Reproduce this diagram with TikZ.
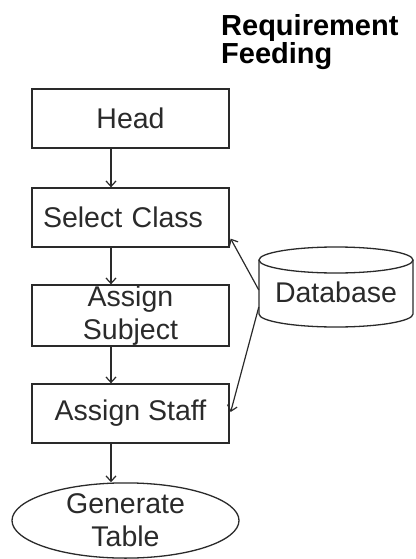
\documentclass[tikz,border=0pt]{standalone}
\usepackage{fontspec}
\setmainfont{Liberation Sans}
\usetikzlibrary{arrows.meta,shapes.geometric}
\definecolor{ink}{HTML}{2A2A2A}
\begin{document}
\begin{tikzpicture}[x=1pt,y=1pt,
  box/.style={draw=ink, line width=1.3pt, minimum width=197pt, minimum height=59pt, inner sep=0pt, align=center, text=ink, font=\fontsize{28.5}{33}\selectfont},
  flow/.style={draw=ink, line width=1.2pt, -{Straight Barb[length=5.5pt,width=10pt,line width=1.2pt]}},
]
\useasboundingbox (0,0) rectangle (415,-559);
\node[anchor=north west, inner sep=0pt, align=left, font=\fontsize{29}{27}\selectfont\bfseries, text=black] (title) at (221,-14) {Requirement\\Feeding};
\node[box] (head) at (130.5,-118.5) {Head};
\node[box, text width=197pt, align=left] (sel) at (130.5,-217.5) {\hspace*{11pt}Select Class};
\node[box, minimum height=61pt] (asub) at (130.5,-315.5) {Assign\\Subject};
\node[box] (asf) at (130.5,-413.5) {Assign Staff};
\node[ellipse, draw=ink, line width=1.3pt, minimum width=227pt, minimum height=75pt, inner sep=0pt, align=center, text=ink, font=\fontsize{28.5}{33}\selectfont] (gen) at (125.5,-520.5) {Generate\\Table};
% database cylinder
\node[minimum width=154pt, minimum height=80pt, inner sep=0pt] (db) at (336,-287) {};
\node[inner sep=0pt, text=ink, font=\fontsize{28.5}{33}\selectfont, anchor=base] (dbt) at (336,-302) {Database};
\draw[ink, line width=1.3pt] (336,-260) ellipse [x radius=77, y radius=13];
\draw[ink, line width=1.3pt] (259,-260) -- (259,-314) arc[start angle=180, end angle=360, x radius=77, y radius=13] -- (413,-260);
% connectors
\coordinate (ax) at (111,0);
\draw[flow] (head.south -| ax) -- (sel.north -| ax);
\draw[flow] (sel.south -| ax) -- (asub.north -| ax);
\draw[flow] (asub.south -| ax) -- (asf.north -| ax);
\draw[flow] (asf.south -| ax) -- (gen.north -| ax);
\draw[flow] ([yshift=-3pt]db.west) -- ([yshift=9pt,xshift=1pt]sel.south east);
\draw[flow] ([yshift=-20pt]db.west) -- ([yshift=1.5pt,xshift=1pt]asf.east);
\end{tikzpicture}
\end{document}
